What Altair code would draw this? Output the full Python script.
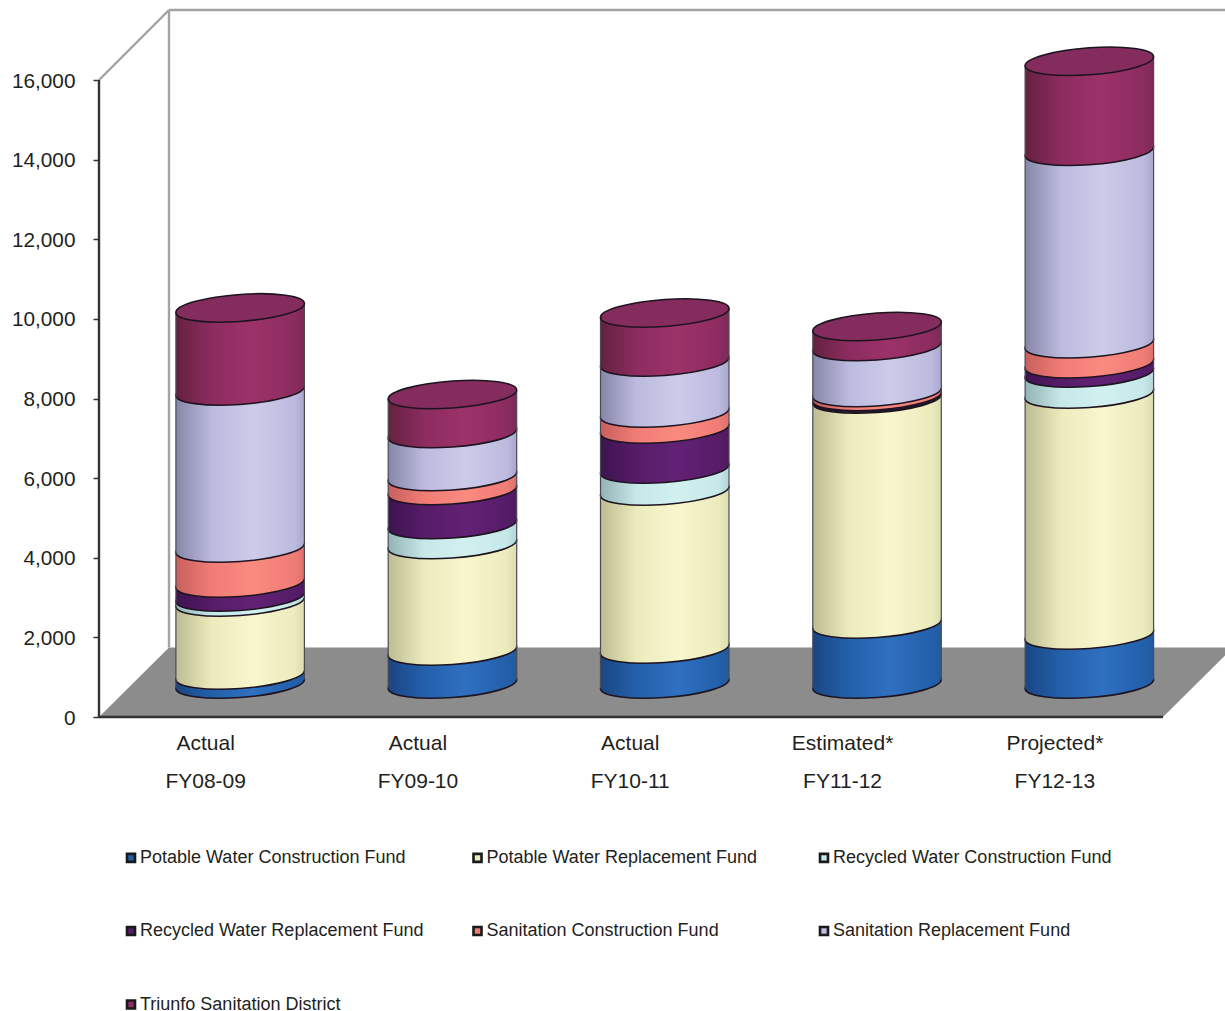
import altair as alt
import numpy as np
import pandas as pd

# Stacked fund balances per fiscal year, in thousands of dollars
periods = ["Actual", "Actual", "Actual", "Estimated*", "Projected*"]
years = ["FY08-09", "FY09-10", "FY10-11", "FY11-12", "FY12-13"]

potable_construction = [226, 829, 879, 1507, 1231]
potable_replacement = [1834, 2675, 3969, 5651, 6053]
recycled_construction = [126, 502, 553, 25, 527]
recycled_replacement = [352, 854, 1005, 40, 234]
sanitation_construction = [879, 352, 402, 100, 502]
sanitation_replacement = [3944, 1080, 1281, 1155, 4833]
triunfo_sanitation = [2085, 980, 1231, 502, 2261]

series_names = [
    "Potable Water Construction Fund",
    "Potable Water Replacement Fund",
    "Recycled Water Construction Fund",
    "Recycled Water Replacement Fund",
    "Sanitation Construction Fund",
    "Sanitation Replacement Fund",
    "Triunfo Sanitation District",
]
series_values = [
    potable_construction,
    potable_replacement,
    recycled_construction,
    recycled_replacement,
    sanitation_construction,
    sanitation_replacement,
    triunfo_sanitation,
]
# (edge shade, body colour, highlight, far-edge shade)
series_shades = [
    ("#1a4683", "#2360ab", "#2f70c0", "#24599f"),
    ("#bdbc92", "#ecebbd", "#f8f6cd", "#dcdcae"),
    ("#93b3b5", "#c6e8e9", "#d2f0f0", "#b4d4d6"),
    ("#3e1350", "#561c68", "#622175", "#4e1a60"),
    ("#c9605d", "#f07c76", "#fa8a80", "#dd716c"),
    ("#8686a8", "#bcbbdf", "#cdcbe9", "#a9a8cc"),
    ("#65213f", "#8c2c60", "#9c3269", "#7c2a58"),
]
lid_fill = "#842c5e"
outline = "#1d1420"

# Canvas and scale set-up
WIDTH, HEIGHT = 1225, 1011
AXIS_X, AXIS_Y = 99, 717
PX_PER_CATEGORY = 212.3
PX_PER_UNIT = 637 / 16000

x_domain = [-AXIS_X / PX_PER_CATEGORY, (WIDTH - AXIS_X) / PX_PER_CATEGORY]
y_domain = [(AXIS_Y - HEIGHT) / PX_PER_UNIT, AXIS_Y / PX_PER_UNIT]

# Perspective of the 3-D box, converted into scale units
AXIS_END = 1064 / PX_PER_CATEGORY
DEPTH_X = 70 / PX_PER_CATEGORY
DEPTH_Y = 70 / PX_PER_UNIT
FLOOR_BACK = 69.5 / PX_PER_UNIT
COLUMN_SHIFT_X = 35 / PX_PER_CATEGORY
COLUMN_LIFT = 33 / PX_PER_UNIT
TILT = 4.5 / PX_PER_UNIT
COLUMN_PX = 128.5
HALF_WIDTH = COLUMN_PX / 2 / PX_PER_CATEGORY

TOP_VALUE = 16000
n_cat = len(years)

label_lookup = "[" + ",".join(f"'{p}|{y}'" for p, y in zip(periods, years)) + "]"
x_axis = alt.Axis(
    values=[i + 0.5 for i in range(n_cat)],
    labelExpr=f"split({label_lookup}[floor(datum.value)], '|')",
    title=None, domain=False, ticks=False, grid=False,
    orient="bottom", offset=AXIS_Y - HEIGHT, labelPadding=15,
    labelFontSize=21, labelFont="Liberation Sans", labelColor="#231f20",
    labelLineHeight=38, labelFlush=False, labelOverlap=False,
)
y_axis = alt.Axis(
    values=list(range(0, TOP_VALUE + 1, 2000)), format=",.0f",
    title=None, domain=False, grid=False,
    orient="left", offset=-AXIS_X, tickSize=6, tickWidth=1.5, tickColor="#333333",
    labelPadding=18, labelOffset=1, labelFontSize=20.8, labelFont="Liberation Sans",
    labelColor="#231f20", labelOverlap=False, labelFlush=False,
)


def ellipse_path(ry=0.21, tilt=0.07, k=0.5523):
    def p(x, y):
        return f"{x:.4f},{y - tilt * x:.4f}"

    return (
        f"M{p(-1, 0)} "
        f"C{p(-1, k * ry)} {p(-k, ry)} {p(0, ry)} "
        f"C{p(k, ry)} {p(1, k * ry)} {p(1, 0)} "
        f"C{p(1, -k * ry)} {p(k, -ry)} {p(0, -ry)} "
        f"C{p(-k, -ry)} {p(-1, -k * ry)} {p(-1, 0)} Z"
    )


def shaded(shades):
    return alt.Gradient(
        gradient="linear",
        x1=0, x2=1, y1=0, y2=0,
        stops=[
            alt.GradientStop(color=shades[0], offset=0),
            alt.GradientStop(color=shades[1], offset=0.28),
            alt.GradientStop(color=shades[2], offset=0.6),
            alt.GradientStop(color=shades[1], offset=0.92),
            alt.GradientStop(color=shades[3], offset=1),
        ],
    )


def x_enc(field):
    return alt.X(field, type="quantitative", axis=x_axis,
                 scale=alt.Scale(domain=x_domain, nice=False, zero=False))


def y_enc(field):
    return alt.Y(field, type="quantitative", axis=y_axis,
                 scale=alt.Scale(domain=y_domain, nice=False, zero=False))


# Column geometry derived from the stacked values
stack = np.array(series_values, dtype=float)
tops = COLUMN_LIFT + np.cumsum(stack, axis=0)
bottoms = tops - stack
centers = np.arange(n_cat) + 0.5 + COLUMN_SHIFT_X

layers = []

# Floor of the box
floor = pd.DataFrame({
    "x": [0, DEPTH_X, AXIS_END, AXIS_END + DEPTH_X],
    "y": [0, FLOOR_BACK, FLOOR_BACK, FLOOR_BACK],
    "y2": [0, 0, 0, FLOOR_BACK],
})
layers.append(
    alt.Chart(floor).mark_area(color="#8c8c8c", clip=True).encode(
        x=x_enc("x"), y=y_enc("y"), y2=alt.Y2("y2"),
    )
)

# Back wall outline and the two dark axis lines
walls = pd.DataFrame({
    "x": [0, DEPTH_X, DEPTH_X],
    "x2": [DEPTH_X, AXIS_END + DEPTH_X, DEPTH_X],
    "y": [TOP_VALUE, TOP_VALUE + DEPTH_Y, TOP_VALUE + DEPTH_Y],
    "y2": [TOP_VALUE + DEPTH_Y, TOP_VALUE + DEPTH_Y, FLOOR_BACK],
})
layers.append(
    alt.Chart(walls).mark_rule(color="#a3a3a3", strokeWidth=2.4, clip=True).encode(
        x=x_enc("x"), x2=alt.X2("x2"), y=y_enc("y"), y2=alt.Y2("y2"),
    )
)
axes_lines = pd.DataFrame({
    "x": [0, 0], "x2": [0, AXIS_END],
    "y": [0, 0], "y2": [TOP_VALUE, 0],
})
layers.append(
    alt.Chart(axes_lines).mark_rule(color="#333333", strokeWidth=2.4).encode(
        x=x_enc("x"), x2=alt.X2("x2"), y=y_enc("y"), y2=alt.Y2("y2"),
    )
)

# Invisible key layer: supplies the fund colour legend
legend_keys = pd.DataFrame({"fund": series_names, "x": [0.0] * 7, "y": [0.0] * 7})
layers.append(
    alt.Chart(legend_keys).mark_square(size=0, opacity=1).encode(
        x=x_enc("x"), y=y_enc("y"),
        color=alt.Color(
            "fund:N",
            scale=alt.Scale(domain=series_names, range=[s[1] for s in series_shades]),
            legend=alt.Legend(
                title=None, orient="none", direction="horizontal",
                legendX=122, legendY=848.5, columns=3,
                gridAlign="all", symbolType="square", symbolSize=64,
                symbolStrokeColor="#1a1a1a", symbolStrokeWidth=2.6, symbolOpacity=1,
                labelFont="Liberation Sans", labelFontSize=18, labelColor="#231f20",
                labelOffset=0, labelLimit=400, rowPadding=53.5, columnPadding=43.5,
            ),
        ),
    )
)

# Draw the stack from the floor upward so every segment overlaps the one beneath
ellipse = ellipse_path()
for s, name in enumerate(series_names):
    seg = pd.DataFrame({"x": centers, "bottom": bottoms[s], "top": tops[s], "cat": years})
    layers.append(
        alt.Chart(seg).mark_point(
            shape=ellipse, size=COLUMN_PX ** 2, filled=True, opacity=1,
            fill=shaded(series_shades[s]), stroke=outline, strokeWidth=1.6,
        ).encode(x=x_enc("x"), y=y_enc("bottom"))
    )
    body = pd.concat([
        pd.DataFrame({"x": centers - HALF_WIDTH, "low": bottoms[s] - TILT,
                      "high": tops[s] - TILT, "cat": years}),
        pd.DataFrame({"x": centers + HALF_WIDTH, "low": bottoms[s] + TILT,
                      "high": tops[s] + TILT, "cat": years}),
    ])
    layers.append(
        alt.Chart(body).mark_area(fill=shaded(series_shades[s]), stroke=None, opacity=1).encode(
            x=x_enc("x"), y=y_enc("high"), y2=alt.Y2("low"), detail="cat:N",
        )
    )

# Cylinder silhouettes and lids
sides = pd.concat([
    pd.DataFrame({"x": centers - HALF_WIDTH, "low": COLUMN_LIFT - TILT, "high": tops[-1] - TILT}),
    pd.DataFrame({"x": centers + HALF_WIDTH, "low": COLUMN_LIFT + TILT, "high": tops[-1] + TILT}),
])
layers.append(
    alt.Chart(sides).mark_rule(color="#4a4a55", strokeWidth=1.2).encode(
        x=x_enc("x"), y=y_enc("low"), y2=alt.Y2("high"),
    )
)
lids = pd.DataFrame({"x": centers, "top": tops[-1]})
layers.append(
    alt.Chart(lids).mark_point(
        shape=ellipse, size=COLUMN_PX ** 2, filled=True, opacity=1,
        fill=lid_fill, stroke=outline, strokeWidth=1.6,
    ).encode(x=x_enc("x"), y=y_enc("top"))
)

chart = alt.layer(*layers).properties(
    width=WIDTH, height=HEIGHT, padding=0, background="white",
    autosize=alt.AutoSizeParams(type="none"),
).configure_view(stroke=None)

chart.save("out.html", embed_options={"renderer": "svg", "actions": False})
